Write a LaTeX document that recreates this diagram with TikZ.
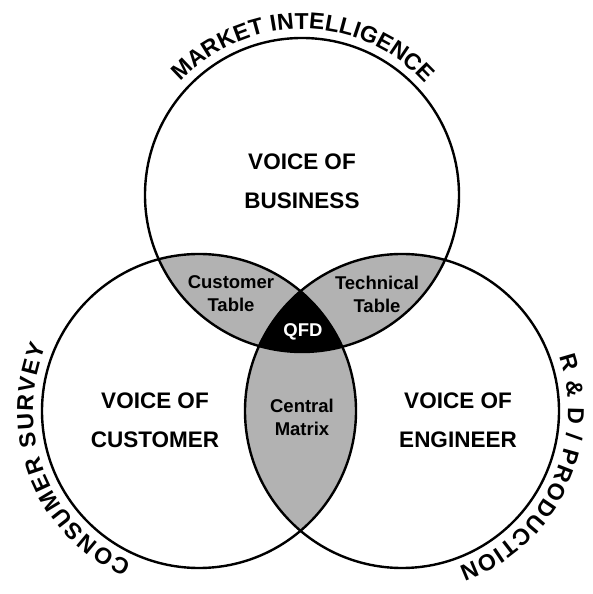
\documentclass[tikz,border=0pt]{standalone}
\usepackage{fontspec}
\setmainfont{Liberation Sans}
\usetikzlibrary{decorations.text}

\tikzset{
  ring/.style={line width=2.4pt},
  lens/.style={fill=black!30},
  voice/.style={align=center, inner sep=0pt, font=\bfseries\fontsize{22.5}{39}\selectfont},
  overlap/.style={align=center, inner sep=0pt, font=\bfseries\fontsize{18.5}{23}\selectfont},
  rim/.style={decorate, decoration={text along path, text align=fit to path,
      text={|\bfseries\fontsize{23}{23}\selectfont|#1}}},
}

\begin{document}
\begin{tikzpicture}[x=1pt, y=1pt]
  \useasboundingbox (0,0) rectangle (593,594);
  % circle centres
  \coordinate (T) at (302,399);
  \coordinate (L) at (199,183);
  \coordinate (R) at (402,183);

  % pairwise overlaps in grey, the common part in black
  \begin{scope}
    \clip (T) circle (157pt);
    \fill[lens] (L) circle (157pt);
    \fill[lens] (R) circle (157pt);
  \end{scope}
  \begin{scope}
    \clip (L) circle (157pt);
    \fill[lens] (R) circle (157pt);
  \end{scope}
  \begin{scope}
    \clip (T) circle (157pt);
    \clip (L) circle (157pt);
    \fill[black] (R) circle (157pt);
  \end{scope}

  \draw[ring] (T) circle (157pt);
  \draw[ring] (L) circle (157pt);
  \draw[ring] (R) circle (157pt);

  % labels inside
  \node[voice] (business) at (302,413) {VOICE OF\\BUSINESS};
  \node[voice] (customer) at (155,174) {VOICE OF\\CUSTOMER};
  \node[voice] (engineer) at (458,174) {VOICE OF\\ENGINEER};
  \node[overlap] (custtable) at (231,300) {Customer\\Table};
  \node[overlap] (techtable) at (377,300) {Technical\\Table};
  \node[overlap] (matrix) at (302,177) {Central\\Matrix};
  \node[overlap, white] (qfd) at (303,262) {QFD};

  % labels round the outside
  \path[rim={MARKET INTELLIGENCE}] (T) ++(137:166pt) arc[start angle=137, end angle=42, radius=166pt];
  \path[rim={CONSUMER SURVEY}] (L) ++(246:166pt) arc[start angle=246, end angle=157, radius=166pt];
  \path[rim={R {\&} D / PRODUCTION}] (R) ++(19:166pt) arc[start angle=19, end angle=-70, radius=166pt];
\end{tikzpicture}
\end{document}
